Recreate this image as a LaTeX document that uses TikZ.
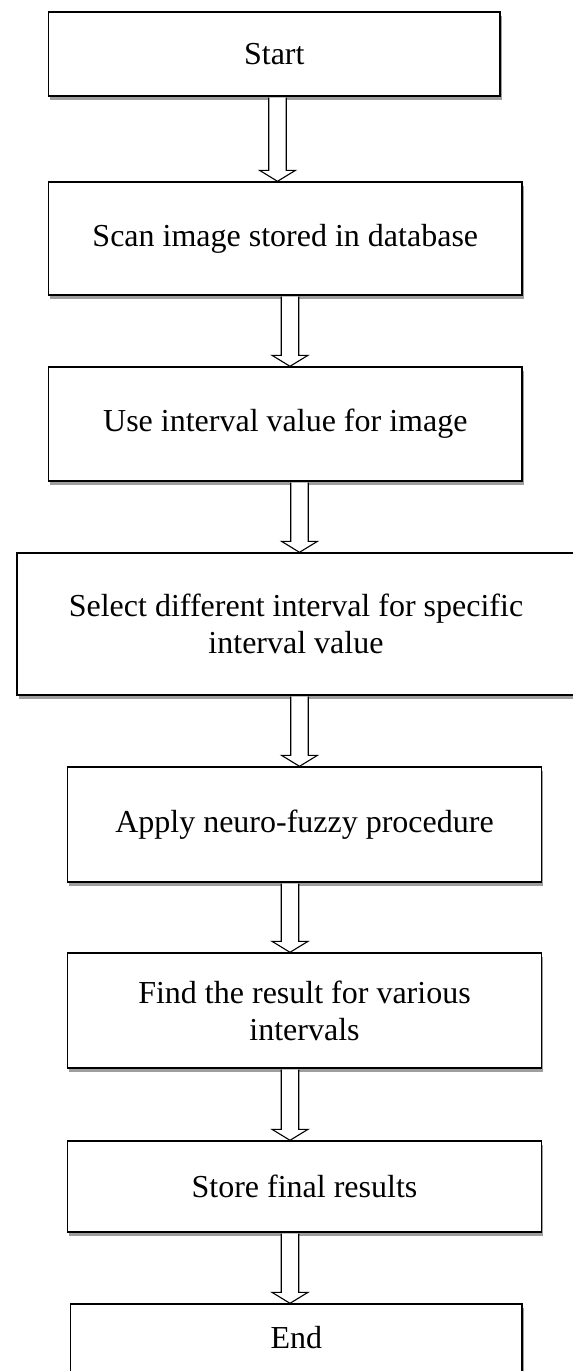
\documentclass[tikz,border=0pt]{standalone}
\usepackage{fontspec}
\setmainfont{Liberation Serif}
\usetikzlibrary{shadows}
\tikzset{
  box/.style={draw=black, line width=1.4pt, fill=white, rectangle, inner sep=0pt,
    align=center, font=\fontsize{32}{37}\selectfont,
    drop shadow={shadow xshift=1.5pt, shadow yshift=-3.5pt, fill=black!38, opacity=1}},
  barrow/.style={draw=black, line width=1.1pt, fill=white, line join=miter}
}
\newcommand\blockarrow[3]{%
  \filldraw[barrow] ([yshift=-0.8pt]#3-8.75,0 |- #1.south)
    -- ([yshift=11pt]#3-8.75,0 |- #2.north)
    -- ([yshift=11pt]#3-18,0 |- #2.north)
    -- (#3,0 |- #2.north)
    -- ([yshift=11pt]#3+18,0 |- #2.north)
    -- ([yshift=11pt]#3+8.75,0 |- #2.north)
    -- ([yshift=-0.8pt]#3+8.75,0 |- #1.south);
}
\begin{document}
\begin{tikzpicture}[x=1pt,y=-1pt]
\useasboundingbox[fill=white] (0,0) rectangle (573,1371);
\node[box, minimum width=451.4pt, minimum height=84pt] (start) at (274.3,54) {Start};
\node[box, minimum width=473.4pt, minimum height=113pt] (scan) at (285.3,238.5) {Scan image stored in database};
\node[box, minimum width=473.4pt, minimum height=114pt] (use) at (285.3,424) {Use interval value for image};
\node[box, minimum width=558pt, minimum height=142pt] (select) at (296,624) {Select different interval for specific\\interval value};
\node[box, minimum width=474pt, minimum height=115pt] (apply) at (304.5,824.5) {Apply neuro-fuzzy procedure};
\node[box, minimum width=474pt, minimum height=115pt] (find) at (304.5,1010.5) {Find the result for various\\intervals};
\node[box, minimum width=474pt, minimum height=91pt] (store) at (304.5,1186.5) {Store final results};
\node[box, minimum width=451.4pt, minimum height=70pt] (end) at (296.3,1339) {\raisebox{4pt}{End}};
\blockarrow{start}{scan}{277.5}
\blockarrow{scan}{use}{290}
\blockarrow{use}{select}{299.5}
\blockarrow{select}{apply}{299.5}
\blockarrow{apply}{find}{290}
\blockarrow{find}{store}{290}
\blockarrow{store}{end}{290}
\end{tikzpicture}
\end{document}
